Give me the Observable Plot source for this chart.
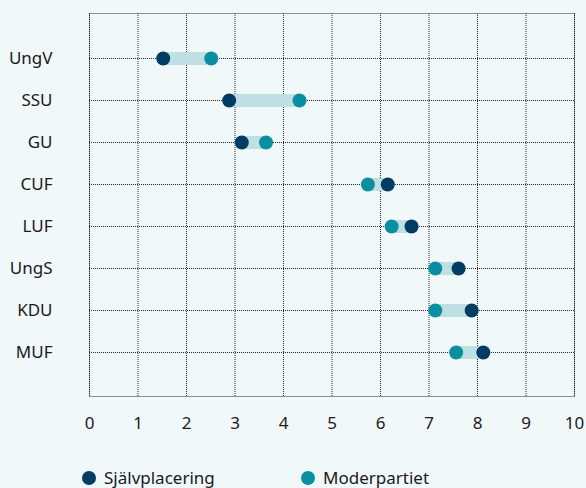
<!DOCTYPE html>
<html>
<head>
<meta charset="utf-8">
<script src="https://cdn.jsdelivr.net/npm/d3@7"></script>
<script src="https://cdn.jsdelivr.net/npm/@observablehq/plot@0.6"></script>
<style>
  html, body { margin: 0; padding: 0; background: #f1f8fa; }
  body { width: 586px; height: 488px; overflow: hidden; font-family: "Noto Sans", sans-serif; color: #1a1a1a; }
  #chart svg { display: block; }
  .legend { display: flex; height: 20px; margin-top: 28px; font-size: 17px; line-height: 20px; }
  .item { display: flex; align-items: center; position: absolute; }
  .dot { width: 14px; height: 14px; border-radius: 50%; margin-right: 8px; }
</style>
</head>
<body>
<div id="chart"></div>
<div class="legend" id="legend"></div>
<script>
const orgs = ["UngV", "SSU", "GU", "CUF", "LUF", "UngS", "KDU", "MUF"];
const selfPlacement = [1.52, 2.88, 3.14, 6.15, 6.64, 7.61, 7.88, 8.12];
const motherParty = [2.51, 4.33, 3.64, 5.74, 6.23, 7.13, 7.13, 7.56];
const seriesNames = ["Självplacering", "Moderpartiet"];
const xTicks = [0, 1, 2, 3, 4, 5, 6, 7, 8, 9, 10];

const darkColor = "#013d62";
const tealColor = "#0a8fa1";
const barColor = "#bfe0e3";

const rows = orgs.map((o, i) => ({org: o, self: selfPlacement[i], party: motherParty[i]}));

const grid = {stroke: "#2b2b2b", strokeOpacity: 1, strokeDasharray: "1,1", strokeWidth: 1};

const plot = Plot.plot({
  width: 586,
  height: 440,
  marginTop: 13,
  marginBottom: 44,
  marginLeft: 89,
  marginRight: 12,
  style: {fontFamily: "Noto Sans, sans-serif", fontSize: "17px", background: "transparent", color: "#1a1a1a"},
  x: {domain: [0, 10]},
  y: {type: "point", domain: orgs, padding: 1},
  marks: [
    Plot.gridX(xTicks, grid),
    Plot.gridY(orgs, grid),
    Plot.frame(grid),
    Plot.axisX(xTicks, {tickSize: 0, tickPadding: 20, fontSize: 17, label: null}),
    Plot.axisY(orgs, {tickSize: 0, tickPadding: 37, fontSize: 17, label: null}),
    Plot.ruleY(rows, {y: "org", x1: "self", x2: "party", stroke: barColor, strokeWidth: 13}),
    Plot.dot(rows, {y: "org", x: "party", r: 7, fill: tealColor}),
    Plot.dot(rows, {y: "org", x: "self", r: 7, fill: darkColor})
  ]
});
document.getElementById("chart").appendChild(plot);

const legend = document.getElementById("legend");
const lefts = [82, 301];
const cols = [darkColor, tealColor];
seriesNames.forEach((name, i) => {
  const it = document.createElement("div");
  it.className = "item";
  it.style.left = lefts[i] + "px";
  const d = document.createElement("span");
  d.className = "dot";
  d.style.background = cols[i];
  const t = document.createElement("span");
  t.textContent = name;
  it.appendChild(d);
  it.appendChild(t);
  legend.appendChild(it);
});
</script>
</body>
</html>
